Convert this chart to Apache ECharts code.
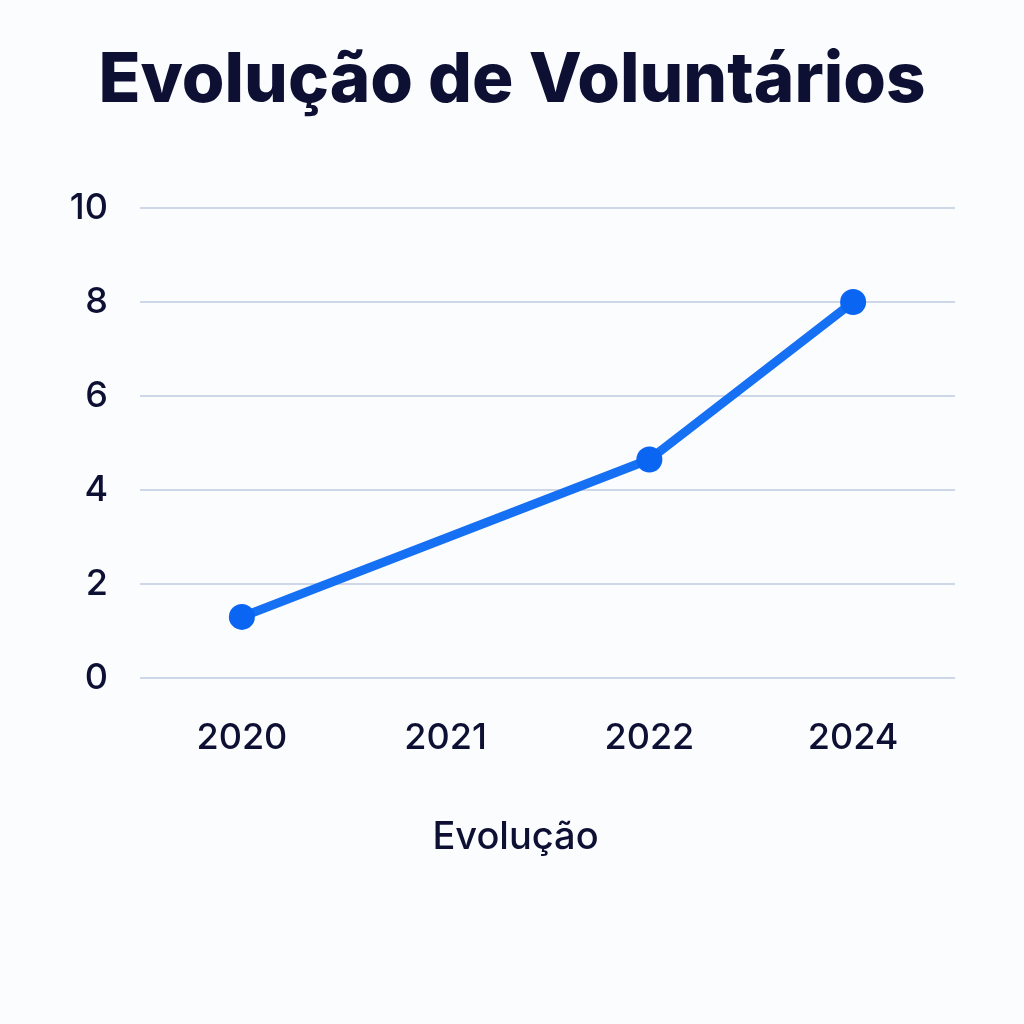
<!DOCTYPE html>
<html>
<head>
<meta charset="utf-8">
<script src="https://cdn.jsdelivr.net/npm/echarts@6/dist/echarts.min.js"></script>
<style>
html,body{margin:0;padding:0;background:#fbfcfe;}
#chart{width:1024px;height:1024px;}
</style>
</head>
<body>
<div id="chart"></div>
<script>
var titleText = 'Evolução de Voluntários';
var xAxisName = 'Evolução';
var categories = ['2020', '2021', '2022', '2024'];
var values = [1.3, null, 4.65, 8];
var yMin = 0, yMax = 10, yInterval = 2;

var chart = echarts.init(document.getElementById('chart'));
chart.setOption({
  backgroundColor: '#fbfcfe',
  textStyle: { fontFamily: 'Inter' },
  title: {
    text: titleText,
    left: 'center',
    top: 42,
    textStyle: { fontFamily: 'Inter', fontSize: 69, fontWeight: 800, color: '#0d1033' }
  },
  grid: { left: 140, right: 69, top: 208, bottom: 346, containLabel: false },
  xAxis: {
    type: 'category',
    data: categories,
    boundaryGap: true,
    name: xAxisName,
    nameLocation: 'middle',
    nameGap: 141,
    nameTextStyle: { fontFamily: 'Inter', fontSize: 38, fontWeight: 500, color: '#0d1033', padding: [0, 64, 0, 0] },
    axisLine: { show: false },
    axisTick: { show: false },
    axisLabel: { fontFamily: 'Inter', fontSize: 36, fontWeight: 500, color: '#0d1033', margin: 42 },
    splitLine: { show: false }
  },
  yAxis: {
    type: 'value',
    min: yMin, max: yMax, interval: yInterval,
    axisLine: { show: false },
    axisTick: { show: false },
    axisLabel: { fontFamily: 'Inter', fontSize: 36, fontWeight: 500, color: '#0d1033', margin: 32 },
    splitLine: { lineStyle: { color: '#cdd7e8', width: 2 } }
  },
  series: [{
    type: 'line',
    data: values,
    connectNulls: true,
    symbol: 'circle',
    symbolSize: 26,
    lineStyle: { color: '#1570f3', width: 9 },
    itemStyle: { color: '#0a66f2' },
    animation: false
  }]
});
</script>
</body>
</html>
